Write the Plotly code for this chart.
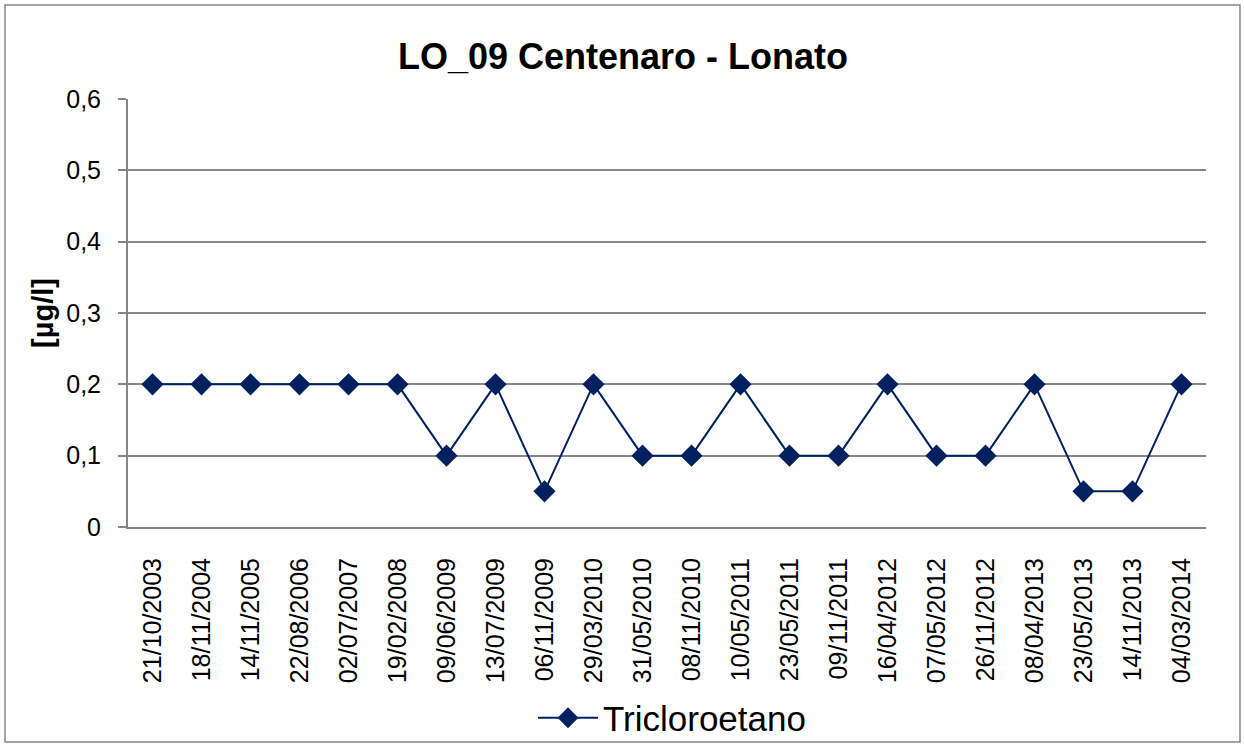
import plotly.graph_objects as go

dates = ["21/10/2003", "18/11/2004", "14/11/2005", "22/08/2006", "02/07/2007",
         "19/02/2008", "09/06/2009", "13/07/2009", "06/11/2009", "29/03/2010",
         "31/05/2010", "08/11/2010", "10/05/2011", "23/05/2011", "09/11/2011",
         "16/04/2012", "07/05/2012", "26/11/2012", "08/04/2013", "23/05/2013",
         "14/11/2013", "04/03/2014"]
tricloroetano = [0.2, 0.2, 0.2, 0.2, 0.2, 0.2, 0.1, 0.2, 0.05, 0.2,
                 0.1, 0.1, 0.2, 0.1, 0.1, 0.2, 0.1, 0.1, 0.2, 0.05,
                 0.05, 0.2]
y_ticks = [0, 0.1, 0.2, 0.3, 0.4, 0.5, 0.6]
n = len(dates)

NAVY = "#002060"
GRAY = "#868686"
FONT = "Liberation Sans, Arial, sans-serif"

fig = go.Figure()
fig.add_trace(go.Scatter(
    x=list(range(n)), y=tricloroetano, mode="lines+markers",
    name="Tricloroetano",
    line=dict(color=NAVY, width=2),
    marker=dict(symbol="diamond", size=17, color=NAVY),
))

L, R, T, B = 128, 38, 99, 221
W, H = 1244, 748
pw, ph = W - L - R, H - T - B

shapes = [
    dict(type="rect", xref="paper", yref="paper",
         x0=(5 - L) / pw, x1=(1240 - L) / pw,
         y0=(H - B - 742) / ph, y1=(H - B - 5) / ph,
         line=dict(color=GRAY, width=1.5), fillcolor="rgba(0,0,0,0)", layer="below"),
]
for xv in [-0.5, 14.5]:
    shapes.append(dict(type="line", xref="x", yref="y", ysizemode="pixel", yanchor=0,
                       x0=xv, x1=xv, y0=0, y1=-8, line=dict(color=GRAY, width=2)))

fig.update_layout(
    width=W, height=H,
    margin=dict(l=L, r=R, t=T, b=B, autoexpand=False),
    paper_bgcolor="white", plot_bgcolor="white",
    separators=", ",
    font=dict(family=FONT, color="black", size=25),
    title=dict(text="<b>LO_09 Centenaro - Lonato</b>", x=(623 - L) / pw, xref="paper",
               xanchor="center", y=1 - 56 / H, yanchor="middle",
               font=dict(size=36, family=FONT)),
    xaxis=dict(
        range=[-0.5, n - 0.5], tickmode="array", tickvals=list(range(n)), ticktext=dates,
        tickangle=-90, ticks="", showgrid=False, showline=True, linecolor=GRAY,
        linewidth=2, zeroline=False, tickfont=dict(size=25), ticklabelstandoff=19,
        fixedrange=True, automargin=False,
    ),
    yaxis=dict(
        range=[0, 0.6], tickmode="array", tickvals=y_ticks,
        ticktext=[f"{v:.1f}".replace(".", ",") if v != 0 else "0" for v in y_ticks],
        ticks="outside", ticklen=8, tickcolor=GRAY, tickwidth=2,
        showgrid=True, gridcolor=GRAY, gridwidth=2,
        showline=True, linecolor=GRAY, linewidth=2, zeroline=False,
        tickfont=dict(size=25), ticklabelstandoff=12, automargin=False,
        title=dict(text="<b>[µg/l]</b>", font=dict(size=29), standoff=4),
    ),
    showlegend=True,
    legend=dict(orientation="h", x=(672 - L) / pw, xanchor="center", y=(H - B - 718) / ph,
                yanchor="middle", font=dict(size=35), bgcolor="rgba(0,0,0,0)",
                itemwidth=60),
    shapes=shapes,
)

fig.write_html("out.html", config={"displayModeBar": False},
               post_script="document.body.style.margin='0';")
